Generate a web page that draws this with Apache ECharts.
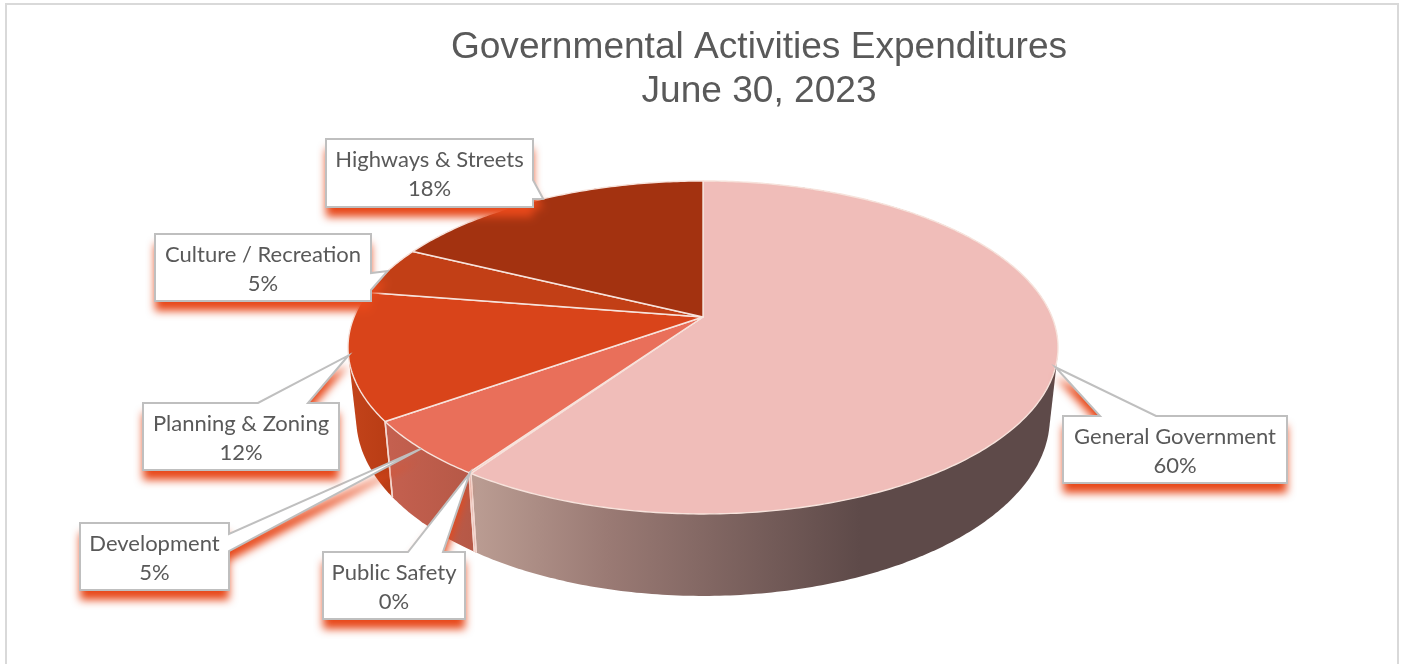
<!DOCTYPE html>
<html>
<head>
<meta charset="utf-8">
<style>html,body{margin:0;padding:0;background:#fff}#c{width:1401px;height:664px}</style>
<script src="https://cdn.jsdelivr.net/npm/echarts@6/dist/echarts.min.js"></script>
</head>
<body>
<div id="c"></div>
<script>
// ---- data ----
var categories = ['General Government','Public Safety','Development','Planning & Zoning','Culture / Recreation','Highways & Streets'];
var shares = [59.55, 0.1, 5.49, 12.36, 4.75, 17.75];
var titleLines = ['Governmental Activities Expenditures','June 30, 2023'];

// ---- styling / layout (not data) ----
var faceColors = ['#f0bdb9','#e96f5a','#e96f5a','#d9441a','#c23f16','#a33210'];
var wallStops = [
  [[0,'#bb9d93'],[0.35,'#9a7a74'],[1,'#5e4a49']],
  [[0,'#ba5c4b'],[1,'#ba5c4b']],
  [[0,'#c4604f'],[1,'#b55846']],
  [[0,'#c2431a'],[1,'#b83c14']],
  [[0,'#a8360f'],[1,'#a8360f']],
  [[0,'#8f2c0d'],[1,'#8f2c0d']]
];
var wallGradientX = [[472,860],[440,480],[390,476],[350,392],[350,392],[350,392]];
// callout box [left, top, right, bottom] and which side the pointer leaves, with its two base offsets
var calloutLayout = [
  {box:[1063,416,1287,483], side:'top',   base:[1100,1156]},
  {box:[323,552,465,619],   side:'top',   base:[408,443]},
  {box:[80,523,229,590],    side:'right', base:[534,551]},
  {box:[143,403,339,470],   side:'top',   base:[258,308]},
  {box:[155,234,371,301],   side:'right', base:[273,290]},
  {box:[326,139,533,207],   side:'right', base:[180,199]}
];
var CX = 703, CY = 317, RADIUS = 349;   // polar frame of the pie
var TILT_Y = 160.9 / 349, PERSP = 0.183; // perspective of the top face
var WALL_XS = 0.977, WALL_YS = 1.07, WALL_Y_AT_FRONT = 596, TOP_Y_AT_FRONT = 514; // lower rim relative to upper rim

// cumulative start / end of each slice
var sliceRows = [], running = 0;
for (var i = 0; i < shares.length; i++) {
  sliceRows.push([running, running + shares[i], shares[i]]);
  running += shares[i];
}

// polar point -> tilted top plane
function topPoint(api, radius, v) {
  var p = api.coord([radius, v]);
  var dx = p[0] - CX, dy = p[1] - CY;
  var w = 1 - PERSP * dy / RADIUS;
  return [CX + dx / w, CY + TILT_Y * dy / w];
}
function lowerPoint(q) {
  return [CX + WALL_XS * (q[0] - CX), WALL_Y_AT_FRONT + WALL_YS * (q[1] - TOP_Y_AT_FRONT)];
}
function arc(api, a, b) {
  var pts = [], n = Math.max(2, Math.ceil((b - a) / 0.2));
  for (var i = 0; i <= n; i++) pts.push(topPoint(api, 1, a + (b - a) * i / n));
  return pts;
}
// convex outline of a wall: covers the straight silhouette of the cylinder; the rest sits under the top face
function hull(points) {
  var p = points.slice().sort(function(a,b){return a[0]-b[0] || a[1]-b[1];});
  function cross(o,a,b){return (a[0]-o[0])*(b[1]-o[1])-(a[1]-o[1])*(b[0]-o[0]);}
  function half(list){
    var h = [];
    list.forEach(function(q){
      while (h.length >= 2 && cross(h[h.length-2],h[h.length-1],q) <= 0) h.pop();
      h.push(q);
    });
    h.pop();
    return h;
  }
  return half(p).concat(half(p.slice().reverse()));
}

function renderWall(params, api) {
  var i = params.dataIndex, a = api.value(0), b = api.value(1);
  var top = arc(api, a, b);
  var low = top.map(lowerPoint);
  var gx = wallGradientX[i];
  var grad = new echarts.graphic.LinearGradient(gx[0],0,gx[1],0,
        wallStops[i].map(function(s){return {offset:s[0],color:s[1]};}),true);
  var line = {stroke:'#f4d9d2',lineWidth:1.5,fill:null};
  return {type:'group', children:[
    {type:'polygon', silent:true, shape:{points:hull(top.concat(low))}, style:{fill:grad}},
    {type:'polyline', silent:true, z2:2, shape:{points:[top[0],low[0]]}, style:line},
    {type:'polyline', silent:true, z2:2, shape:{points:[top[top.length-1],low[low.length-1]]}, style:line}
  ]};
}
function renderFace(params, api) {
  var i = params.dataIndex, a = api.value(0), b = api.value(1);
  return {type:'polygon', silent:true,
    shape:{points:[[CX,CY]].concat(arc(api,a,b))},
    style:{fill:faceColors[i], stroke:'#f7e3dc', lineWidth:1.4, lineJoin:'round'}};
}
function calloutPath(L, tip) {
  var l=L.box[0], t=L.box[1], r=L.box[2], bt=L.box[3], b=L.base;
  if (L.side === 'top') return [[l,t],[b[0],t],tip,[b[1],t],[r,t],[r,bt],[l,bt]];
  return [[l,t],[r,t],[r,b[0]],tip,[r,b[1]],[r,bt],[l,bt]];
}
function renderCallout(params, api) {
  var i = params.dataIndex, L = calloutLayout[i];
  var tip = topPoint(api, 1, (api.value(0) + api.value(1)) / 2);
  var path = calloutPath(L, tip);
  return {type:'group', children:[
    {type:'polygon', silent:true, shape:{points:path},
     style:{fill:'#fff', shadowColor:'#e8481a', shadowBlur:8, shadowOffsetX:0, shadowOffsetY:10}},
    {type:'polygon', silent:true, shape:{points:path},
     style:{fill:'#fff', stroke:'#bfbfbf', lineWidth:2, lineJoin:'miter'}},
    {type:'text', silent:true, style:{
       x:(L.box[0]+L.box[2])/2, y:(L.box[1]+L.box[3])/2 + 1.5,
       text:categories[i]+'\n'+Math.round(api.value(2))+'%',
       align:'center', verticalAlign:'middle', textAlign:'center', textVerticalAlign:'middle',
       fontFamily:'Lato', fontSize:22, lineHeight:29, fill:'#595959'}}
  ]};
}

var chart = echarts.init(document.getElementById('c'), null, {renderer:'canvas', width:1401, height:664});
function sliceSeries(fn, z) {
  return {type:'custom', coordinateSystem:'polar', renderItem:fn, data:sliceRows, z:z,
          dimensions:['start','end','share'], encode:{radius:-1, angle:0}, clip:false, silent:true, animation:false};
}
chart.setOption({
  animation:false,
  backgroundColor:'#ffffff',
  title:{text:titleLines.join('\n'), left:754, top:21, textAlign:'center',
    textStyle:{fontFamily:'Liberation Sans', fontSize:37.1, fontWeight:'normal', color:'#595959', lineHeight:44}},
  polar:{center:[CX,CY], radius:RADIUS},
  angleAxis:{type:'value', min:0, max:100, startAngle:90, show:false},
  radiusAxis:{type:'value', min:0, max:1, show:false},
  graphic:[{type:'rect', silent:true, z:-1, shape:{x:6,y:4,width:1392,height:700},
            style:{fill:'#fff',stroke:'#d9d9d9',lineWidth:2}}],
  series:[sliceSeries(renderWall,2), sliceSeries(renderFace,3), sliceSeries(renderCallout,4)]
});
</script>
</body>
</html>
